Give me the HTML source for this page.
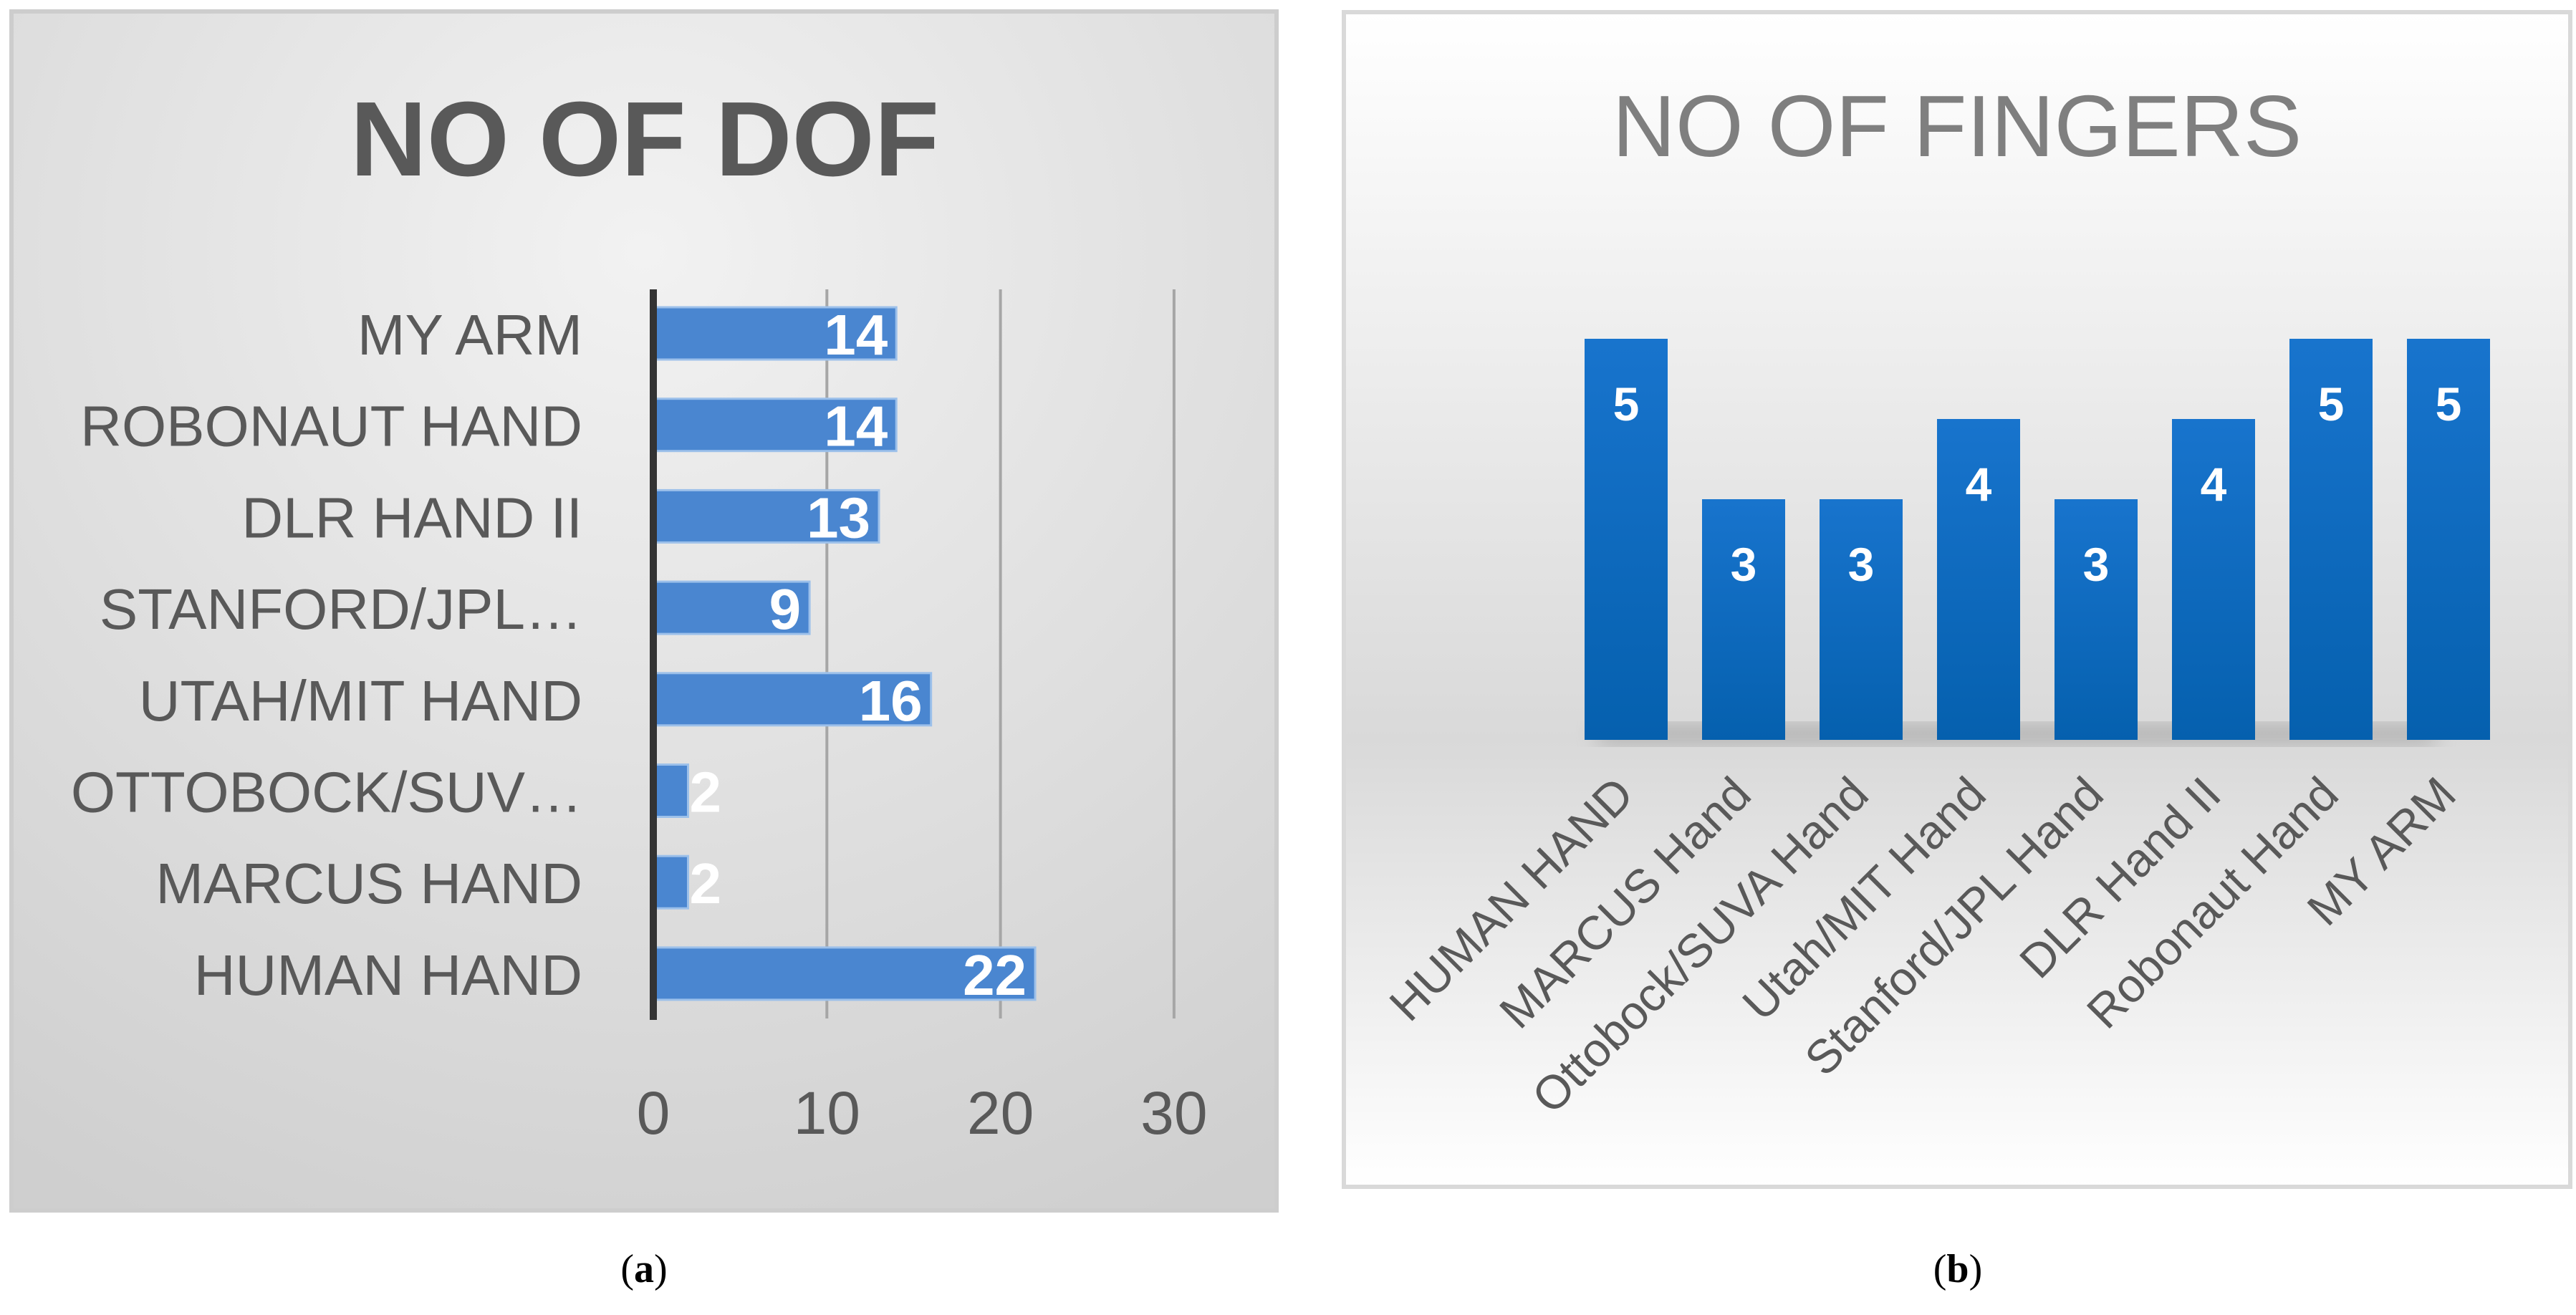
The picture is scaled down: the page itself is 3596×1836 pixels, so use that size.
<!DOCTYPE html>
<html><head><meta charset="utf-8"><style>
html,body{margin:0;padding:0;background:#fff}
svg{display:block}
</style></head><body>
<svg id="root" width="3596" height="1836" viewBox="0 0 3596 1836" xmlns="http://www.w3.org/2000/svg" font-family="Liberation Sans, sans-serif">
<defs>
<radialGradient id="gA" cx="0.5" cy="0.2" r="0.9">
<stop offset="0" stop-color="#f2f2f2"/><stop offset="1" stop-color="#cfcfcf"/>
</radialGradient>
<linearGradient id="gB" x1="0" y1="0" x2="0" y2="1">
<stop offset="0" stop-color="#ffffff"/><stop offset="0.62" stop-color="#d9d9d9"/><stop offset="1" stop-color="#ffffff"/>
</linearGradient>
<linearGradient id="bar" x1="0" y1="0" x2="0" y2="1">
<stop offset="0" stop-color="#1874cd"/><stop offset="1" stop-color="#0560ae"/>
</linearGradient>
<filter id="blur"><feGaussianBlur stdDeviation="14"/></filter>
</defs>
<g>
<rect x="16" y="16" width="1766" height="1674" fill="url(#gA)" stroke="#cdcdcd" stroke-width="6"/>
<text x="900" y="245" text-anchor="middle" font-size="148" font-weight="bold" fill="#595959">NO OF DOF</text>
<g id="dofG"></g>
</g>
<g>
<rect x="1876" y="17" width="1712" height="1640" fill="url(#gB)" stroke="#d9d9d9" stroke-width="6"/>
<text x="2732" y="218" text-anchor="middle" font-size="122" fill="#7f7f7f">NO OF FINGERS</text>
<rect x="2230" y="1010" width="1170" height="30" fill="#9a9a9a" opacity="0.6" filter="url(#blur)"/>
<g id="finG"></g>
</g>
<text x="899" y="1790" text-anchor="middle" font-size="56" font-family="Liberation Serif, serif" fill="#000">(<tspan font-weight="bold">a</tspan>)</text>
<text x="2733" y="1790" text-anchor="middle" font-size="56" font-family="Liberation Serif, serif" fill="#000">(<tspan font-weight="bold">b</tspan>)</text>
</svg>
<script>
const dofCategories=["MY ARM","ROBONAUT HAND","DLR HAND II","STANFORD/JPL…","UTAH/MIT HAND","OTTOBOCK/SUV…","MARCUS HAND","HUMAN HAND"];
const dofValues=[14,14,13,9,16,2,2,22];
const dofTicks=[0,10,20,30];
const finCategories=["HUMAN HAND","MARCUS Hand","Ottobock/SUVA Hand","Utah/MIT Hand","Stanford/JPL Hand","DLR Hand II","Robonaut Hand","MY ARM"];
const finValues=[5,3,3,4,3,4,5,5];
const NS="http://www.w3.org/2000/svg";
function mk(p,t,a,txt){const e=document.createElementNS(NS,t);for(const k in a)e.setAttribute(k,a[k]);if(txt!==undefined)e.textContent=txt;p.appendChild(e);return e;}
const g1=document.getElementById('dofG');
const x0=912,xs=24.23;
const xA=v=>x0+v*xs;
const yA=i=>465+i*127.7;
dofTicks.forEach(t=>{
 if(t>0){const l=mk(g1,'line',{x1:xA(t),x2:xA(t),y1:404,y2:1422,stroke:'#a6a6a6','stroke-width':4});
 
 }
 const tx=mk(g1,'text',{x:xA(t),y:1583,'text-anchor':'middle','font-size':84,fill:'#595959'},t);
 
 
});
dofValues.forEach((v,i)=>{
 const y=yA(i);
 const r=mk(g1,'rect',{x:xA(0),y:y-36,width:v*xs,height:73,fill:'#4a86d0',stroke:'#9cc0ea','stroke-width':3});
 
 
 const c=mk(g1,'text',{x:813,y:y+30,'text-anchor':'end','font-size':80,fill:'#595959'},dofCategories[i]);
 
 
 const big=v*xs>100;
 const vl=mk(g1,'text',{x:big?xA(v)-12:xA(v)+2,y:y+30,'text-anchor':big?'end':'start','font-size':80,'font-weight':'bold',fill:'#fff'},v);
 
 
});
const ax=mk(g1,'line',{x1:xA(0),x2:xA(0),y1:404,y2:1424,stroke:'#333','stroke-width':10});


const g2=document.getElementById('finG');
const base=1033,ys=112,bw=116;
const cx=i=>2270+i*164;
const yv=v=>base-v*ys;
finValues.forEach((v,i)=>{
 const r=mk(g2,'rect',{x:cx(i)-bw/2,y:yv(v),width:bw,height:base-yv(v),fill:'url(#bar)'});
 
 
 const vl=mk(g2,'text',{x:cx(i),y:yv(v)+114,'text-anchor':'middle','font-size':66,'font-weight':'bold',fill:'#fff'},v);
 
 
 const c=mk(g2,'text',{x:0,y:0,'text-anchor':'end','font-size':66,fill:'#595959',transform:`translate(${cx(i)+14},${base+80}) rotate(-45)`},finCategories[i]);
 
 
});
</script>
</body></html>
